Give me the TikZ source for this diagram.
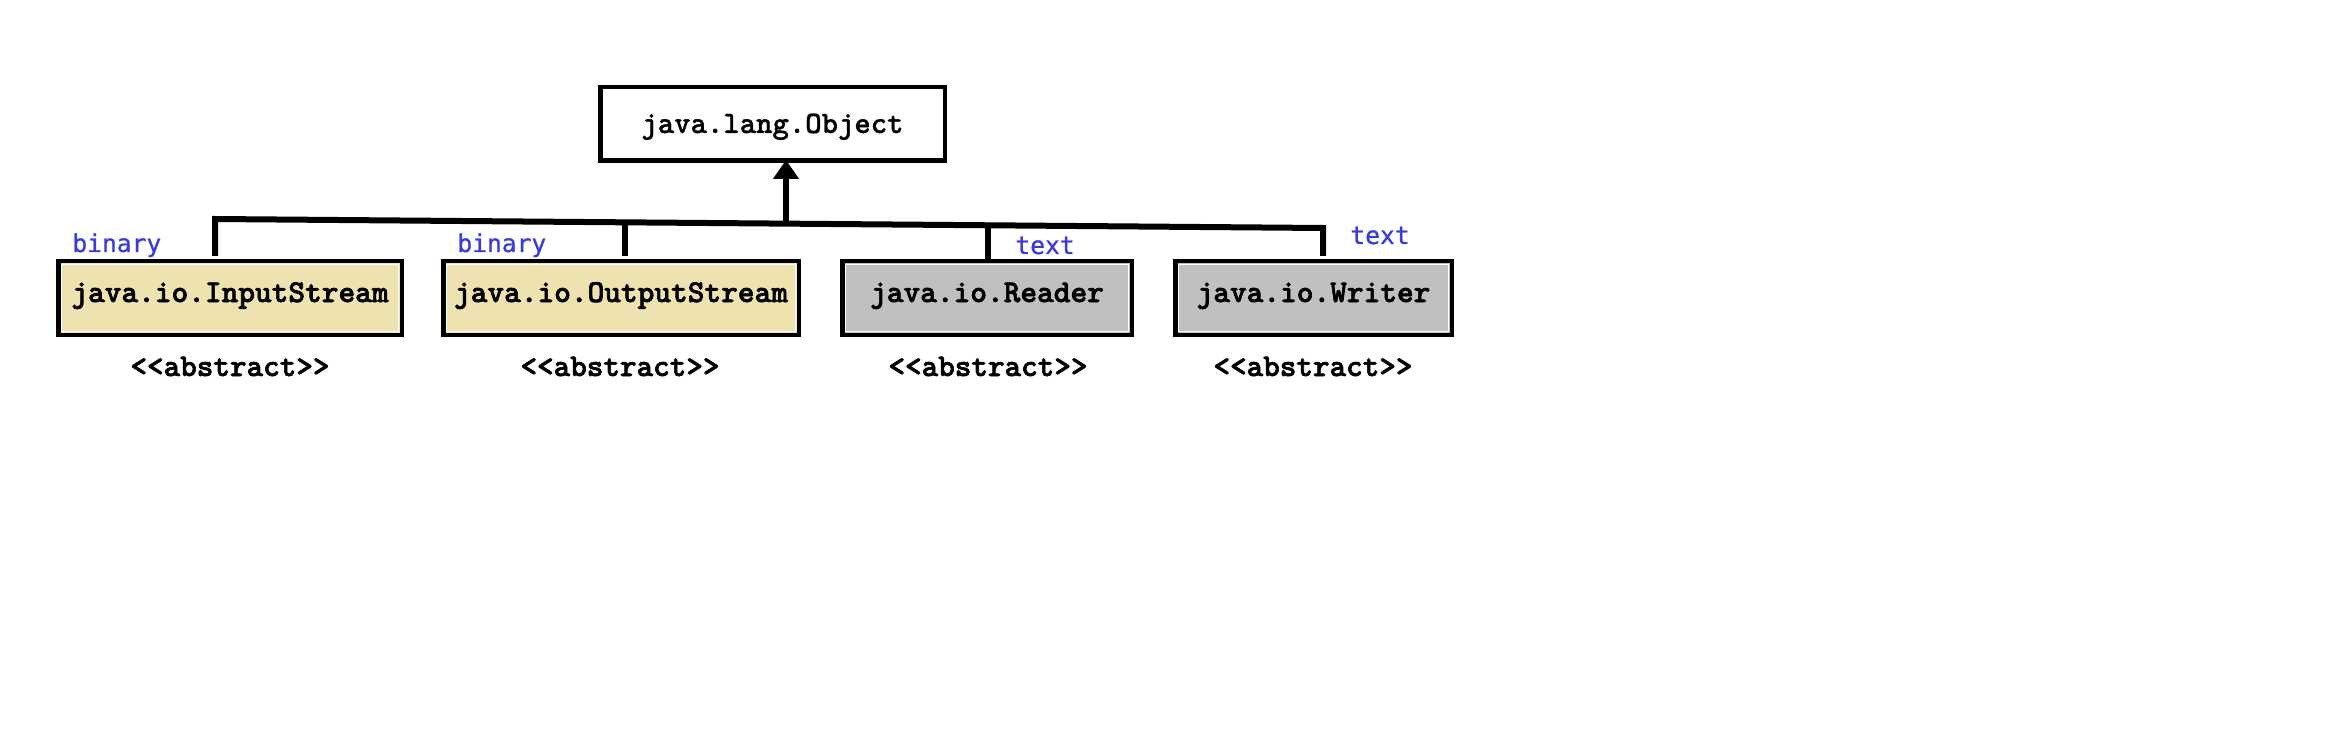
\documentclass[tikz,border=0pt]{standalone}
\usepackage{fontspec}
\usetikzlibrary{arrows.meta}
\newfontfamily\courfont{lmmonolt10-bold.otf}[FakeBold=2]
\newfontfamily\courobjfont{lmmonolt10-bold.otf}[FakeBold=1]
\newfontfamily\bluefont{DejaVu Sans Mono}[FakeBold=0.8]
\definecolor{beige}{RGB}{238,226,176}
\definecolor{boxgray}{RGB}{192,192,192}
\definecolor{labelblue}{RGB}{58,60,214}
\begin{document}
\begin{tikzpicture}[x=0.5pt,y=-0.5pt,
  classbox/.style={draw=black, line width=2.25pt, inner sep=0pt, minimum height=36.75pt,
    font=\courfont\fontsize{15.9pt}{18pt}\selectfont, text height=7.5pt, text depth=3.5pt},
  objbox/.style={draw=black, fill=white, line width=2.25pt, inner sep=0pt, minimum height=36.75pt,
    font=\courobjfont\fontsize{15.6pt}{18pt}\selectfont, text height=11pt, text depth=2pt},
  abslabel/.style={anchor=base, inner sep=0pt, font=\courfont\fontsize{15.8pt}{18pt}\selectfont},
  kindlabel/.style={anchor=base west, inner sep=0pt, text=labelblue, font=\bluefont\fontsize{12.3pt}{14pt}\selectfont},
  innerframe/.style={draw=white, line width=0.7pt},
  bus/.style={draw=black, line width=3pt, line join=miter},
  inherit/.style={draw=black, line width=3.3pt, -{Triangle[length=9.5pt,width=12.5pt]}}
]
\useasboundingbox (0,0) rectangle (2329,743);

% top class
\node[objbox, minimum width=172.25pt] (obj) at (772.5,124) {java.lang.Object};

% subclasses
\node[classbox, fill=beige, minimum width=171.75pt] (in) at (230,298) {java.io.InputStream};
\node[classbox, fill=beige, minimum width=177.75pt] (out) at (621,298) {java.io.OutputStream};
\node[classbox, fill=boxgray, minimum width=144.75pt] (rd) at (987,298) {java.io.Reader};
\node[classbox, fill=boxgray, minimum width=138.25pt] (wr) at (1313.5,298) {java.io.Writer};

% inner white frames
\foreach \n in {in,out,rd,wr}{
  \draw[innerframe] ([shift={(2.7pt,2.7pt)}]\n.south west) rectangle ([shift={(-2.7pt,-2.7pt)}]\n.north east);
}

% stereotypes
\node[abslabel] (ain) at (230,376) {<{}<abstract>{}>};
\node[abslabel] (aout) at (620,376) {<{}<abstract>{}>};
\node[abslabel] (ard) at (988,376) {<{}<abstract>{}>};
\node[abslabel] (awr) at (1313,376) {<{}<abstract>{}>};

% kind labels
\node[kindlabel] (kin) at (72,252) {binary};
\node[kindlabel] (kout) at (457,252) {binary};
\node[kindlabel] (krd) at (1015,254) {text};
\node[kindlabel] (kwr) at (1350,244) {text};

% bus
\coordinate (b1) at (215,219);
\coordinate (b2) at (625,221.7);
\coordinate (bo) at (786,222.2);
\coordinate (b3) at (988,224.8);
\coordinate (b4) at (1323,228);

\draw[bus, shorten <=1.5pt, shorten >=1.5pt] (b1 |- in.north) -- (b1) -- (b4) -- (b4 |- wr.north);
\draw[bus, shorten >=1.5pt] (b2) -- (b2 |- out.north);
\draw[bus] (b3) -- (b3 |- rd.north);
\draw[inherit, shorten >=-1.5pt] (bo) -- (bo |- obj.south);
\end{tikzpicture}
\end{document}
